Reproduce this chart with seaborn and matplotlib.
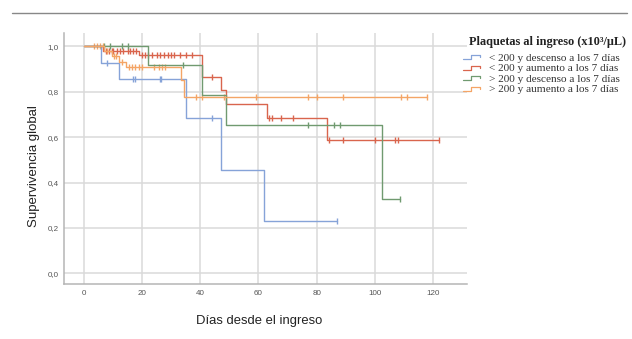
import numpy as np
import pandas as pd
import seaborn as sns
import matplotlib.pyplot as plt
from matplotlib.lines import Line2D
from matplotlib.legend_handler import HandlerBase
from matplotlib.ticker import FuncFormatter

# Kaplan-Meier steps: event times, survival after each event, censored times
groups = ["< 200 y descenso a los 7 días", "< 200 y aumento a los 7 días",
          "> 200 y descenso a los 7 días", "> 200 y aumento a los 7 días"]
colors = ["#86a3d8", "#d9654d", "#709a70", "#f4a566"]

blue_events = [6, 12, 35, 47, 62]
blue_surv = [0.929, 0.857, 0.686, 0.457, 0.229]
blue_cens = [8, 17, 17.5, 26, 26.5, 44, 87]

red_events = [6.6, 19, 40.7, 47.2, 49, 63, 83.4]
red_surv = [0.978, 0.962, 0.865, 0.807, 0.748, 0.684, 0.588]
red_cens = [7.5, 8.5, 9.5, 10, 11.5, 12.5, 13.5, 15, 16, 17, 18,
            20, 21, 22, 23.5, 25, 26, 27.5, 29, 30, 31, 33, 35, 37,
            44, 63.5, 64.6, 67.7, 71.8, 84.2, 89, 100, 107, 108, 122]

green_events = [22, 40.7, 49, 102.3]
green_surv = [0.917, 0.786, 0.655, 0.328]
green_cens = [7, 9, 13, 15, 34, 77, 86, 88, 108.5]

orange_events = [7, 9.5, 12, 14.5, 33.3, 34.5]
orange_surv = [0.978, 0.956, 0.933, 0.911, 0.853, 0.778]
orange_cens = [3.5, 4.5, 5.5, 6.5, 8, 10.5, 11, 13, 15.5, 16.5, 17.5, 19, 20,
               24.2, 25.7, 27, 28, 38.5, 40.7, 48.1, 59, 77.1, 80.2, 89, 109, 111, 117.9]

series = [(blue_events, blue_surv, blue_cens), (red_events, red_surv, red_cens),
          (green_events, green_surv, green_cens), (orange_events, orange_surv, orange_cens)]

y_ticks = [0.0, 0.2, 0.4, 0.6, 0.8, 1.0]
x_ticks = [0, 20, 40, 60, 80, 100, 120]

sns.set_style("white")
plt.rcParams['font.family'] = ['Liberation Sans', 'DejaVu Sans']

fig = plt.figure(figsize=(6.32, 3.39), dpi=100)
ax = fig.add_axes([0.102, 0.162, 0.637, 0.741])

handles = []
for name, col, (ev, sv, cens) in zip(groups, colors, series):
    t = np.array([0] + ev + [max(cens)])
    s = np.array([1.0] + sv + [sv[-1]])
    df = pd.DataFrame({"t": t, "s": s})
    sns.lineplot(data=df, x="t", y="s", drawstyle="steps-post", estimator=None,
                 sort=False, color=col, lw=1.0, ax=ax)
    cens = np.array(cens)
    idx = np.searchsorted(t[:-1], cens, side="right") - 1
    cdf = pd.DataFrame({"t": cens, "s": s[idx]})
    sns.scatterplot(data=cdf, x="t", y="s", marker="|", s=22, color=col,
                    linewidth=1.0, ax=ax)
    handles.append(Line2D([], [], color=col, lw=0.9, label=name))

ax.set_xlim(-6.7, 131.7)
ax.set_ylim(-0.047, 1.06)
ax.set_xticks(x_ticks)
ax.set_yticks(y_ticks)
ax.yaxis.set_major_formatter(FuncFormatter(lambda v, p: f"{v:.1f}".replace(".", ",")))
ax.grid(True, color="#dadada", lw=1.1)
ax.set_axisbelow(True)
for sp in ["top", "right"]:
    ax.spines[sp].set_visible(False)
for sp in ["left", "bottom"]:
    ax.spines[sp].set_color("#b5b5b5")
    ax.spines[sp].set_linewidth(1.1)
ax.tick_params(length=0, labelsize=5.8, labelcolor="#555555", pad=4)

ax.set_xlabel("Días desde el ingreso", fontsize=9.4, color="#222222")
ax.set_ylabel("Supervivencia global", fontsize=9.5, color="#222222")
ax.xaxis.set_label_coords(0.483, -0.125)
ax.yaxis.set_label_coords(-0.062, 0.47)


class StepHandler(HandlerBase):
    def create_artists(self, legend, orig_handle, xdescent, ydescent, width, height, fontsize, trans):
        x = np.array([0, 0.45, 0.45, 0.95, 0.95]) * width - xdescent
        y = np.array([0.2, 0.2, 0.7, 0.7, 0.45]) * height - ydescent
        ln = Line2D(x, y, color=orig_handle.get_color(), lw=0.9)
        ln.set_transform(trans)
        return [ln]


fig.text(469 / 632, 1 - 42 / 339, "Plaquetas al ingreso (x10³/μL)", ha="left", va="center",
         family="Liberation Serif", weight="bold", size=8.8, color="#222222")

leg = fig.legend(handles=handles, loc="upper left", bbox_to_anchor=(0.733, 1 - 53 / 339),
                 frameon=False, handler_map={Line2D: StepHandler()}, handlelength=1.6,
                 handletextpad=0.7, labelspacing=0.05, borderaxespad=0, borderpad=0,
                 prop={"family": "Liberation Serif", "size": 8.1})
for txt in leg.get_texts():
    txt.set_color("#333333")

fig.add_artist(Line2D([12 / 632, 627 / 632], [1 - 13 / 339] * 2, color="#888888", lw=1))

fig.savefig("out.png", dpi=100, facecolor="white")
